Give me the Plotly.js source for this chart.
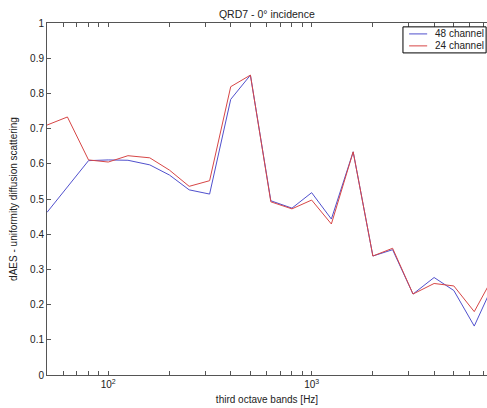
<!DOCTYPE html>
<html>
<head>
<meta charset="utf-8">
<script src="https://cdn.plot.ly/plotly-3.0.1.min.js"></script>
<style>html,body{margin:0;padding:0;background:#fff;}#chart{width:487px;height:408px;}</style>
</head>
<body>
<div id="chart"></div>
<script>
const freqs = [50, 63, 80, 100, 125, 160, 200, 250, 315, 400, 500, 630, 800, 1000, 1250, 1600, 2000, 2500, 3150, 4000, 5000, 6300, 8000];
const ch48 = [0.462, 0.534, 0.609, 0.611, 0.610, 0.597, 0.568, 0.526, 0.514, 0.783, 0.852, 0.495, 0.474, 0.518, 0.443, 0.634, 0.338, 0.356, 0.230, 0.277, 0.240, 0.139, 0.27];
const ch24 = [0.710, 0.733, 0.611, 0.605, 0.623, 0.617, 0.582, 0.536, 0.552, 0.819, 0.852, 0.492, 0.472, 0.497, 0.429, 0.634, 0.338, 0.360, 0.230, 0.260, 0.253, 0.180, 0.29];
const seriesNames = ["48 channel", "24 channel"];
const seriesColors = ["rgb(80,80,205)", "rgb(215,70,70)"];
const majorTicks = [100, 1000];
const majorText = ["10<sup>2</sup>", "10<sup>3</sup>"];
const minorTicks = [50,60,70,80,90,200,300,400,500,600,700,800,900,2000,3000,4000,5000,6000,7000];
const yTicks = [0,0.1,0.2,0.3,0.4,0.5,0.6,0.7,0.8,0.9,1];
const yText = ["0","0.1","0.2","0.3","0.4","0.5","0.6","0.7","0.8","0.9","1"];

const fam = "Liberation Sans, Arial, sans-serif";
const font = {family: fam, size: 10, color: "#222"};
const traces = [ch48, ch24].map((vals, i) => ({
  x: freqs, y: vals, name: seriesNames[i], type: "scatter", mode: "lines",
  line: {color: seriesColors[i], width: 1}, showlegend: false
}));

// Compact MATLAB-style legend box (paper coordinates)
const lg = {x0: 0.809, x1: 0.998, y0: 0.915, y1: 0.989, lineX0: 0.823, lineX1: 0.864, textX: 0.877, rowY: [0.969, 0.935]};
const shapes = [
  {type: "rect", xref: "paper", yref: "paper", x0: lg.x0, x1: lg.x1, y0: lg.y0, y1: lg.y1,
   line: {color: "#000", width: 1}, fillcolor: "#fff", layer: "above"}
];
const annotations = [];
seriesNames.forEach((nm, i) => {
  shapes.push({type: "line", xref: "paper", yref: "paper", x0: lg.lineX0, x1: lg.lineX1, y0: lg.rowY[i], y1: lg.rowY[i],
    line: {color: seriesColors[i], width: 1}, layer: "above"});
  annotations.push({xref: "paper", yref: "paper", x: lg.textX, y: lg.rowY[i], xanchor: "left", yanchor: "middle",
    text: nm, showarrow: false, font: {family: fam, size: 10, color: "#222"}});
});

const layout = {
  width: 487, height: 408,
  margin: {l: 47, r: 0, t: 23, b: 33, pad: 0},
  paper_bgcolor: "#fff", plot_bgcolor: "#fff",
  font: font,
  showlegend: false,
  title: {text: "QRD7 - 0° incidence", font: {family: fam, size: 10.5, color: "#222"},
          x: 0.548, xanchor: "center", y: 0.966, yanchor: "middle"},
  xaxis: {
    type: "log", range: [Math.log10(50), 3.862],
    tickmode: "array", tickvals: majorTicks, ticktext: majorText,
    ticks: "inside", ticklen: 4, tickcolor: "#555", tickwidth: 1,
    minor: {tickmode: "array", tickvals: minorTicks, ticks: "inside", ticklen: 4, tickcolor: "#555", tickwidth: 1, showgrid: false},
    showline: true, linecolor: "#555", linewidth: 1, mirror: "ticks",
    showgrid: false, zeroline: false,
    tickfont: {family: fam, size: 10, color: "#222"},
    title: {text: "third octave bands [Hz]", font: {family: fam, size: 10, color: "#222"}, standoff: 6}
  },
  yaxis: {
    range: [0, 1], tickmode: "array", tickvals: yTicks, ticktext: yText,
    ticks: "inside", ticklen: 4, tickcolor: "#555", tickwidth: 1,
    showline: true, linecolor: "#555", linewidth: 1, mirror: false,
    showgrid: false, zeroline: false,
    tickfont: {family: fam, size: 10, color: "#222"},
    title: {text: "dAES - uniformity diffusion scattering", font: {family: fam, size: 10, color: "#222"}, standoff: 10}
  },
  shapes: shapes,
  annotations: annotations
};
Plotly.newPlot("chart", traces, layout, {displayModeBar: false, staticPlot: true});
</script>
</body>
</html>
